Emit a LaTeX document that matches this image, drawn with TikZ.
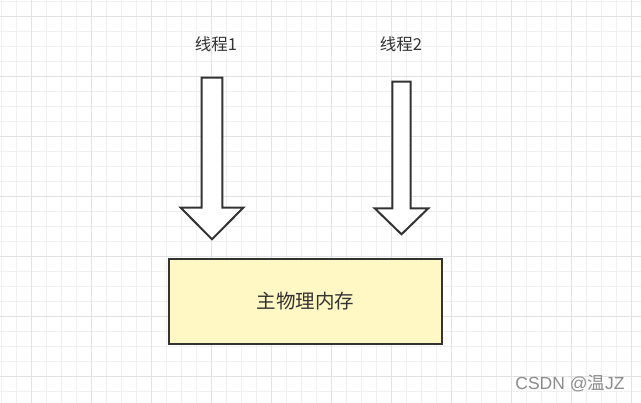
\documentclass[tikz,border=0pt]{standalone}
\usepackage{fontspec}
\setmainfont{Liberation Sans}
\newfontfamily\cjk{Noto Sans CJK SC}
\definecolor{gridminor}{HTML}{F0F0F0}
\definecolor{gridmajor}{HTML}{E2E2E2}
\definecolor{ink}{HTML}{333333}
\definecolor{memfill}{HTML}{FFF8C4}
\definecolor{wm}{HTML}{8C8C8C}
\tikzset{
  blockarrow/.style={draw=ink, line width=2pt, fill=white, line join=miter},
  lbl/.style={text=ink, font=\cjk\fontsize{16.5}{16.5}\selectfont, inner sep=0pt},
  membox/.style={draw=ink, line width=2pt, fill=memfill, minimum width=272.7pt, minimum height=85pt, inner sep=0pt, text=ink, font=\cjk\fontsize{19.5}{19.5}\selectfont},
  watermark/.style={text=wm, font=\fontsize{17.5}{18}\selectfont, inner sep=0pt}
}
\begin{document}
\begin{tikzpicture}[x=1pt,y=-1pt]
\useasboundingbox (0,0) rectangle (641,403);
\fill[white] (0,0) rectangle (641,403);
% grid
\foreach \i in {0,...,42} {
  \pgfmathsetmacro{\xx}{1+15*\i}
  \draw[gridminor, line width=1pt] (\xx,0) -- (\xx,403);
}
\foreach \i in {0,...,26} {
  \pgfmathsetmacro{\yy}{2+15*\i}
  \draw[gridminor, line width=1pt] (0,\yy) -- (641,\yy);
}
\foreach \i in {0,...,10} {
  \pgfmathsetmacro{\xx}{31+60*\i}
  \draw[gridmajor, line width=1pt] (\xx,0) -- (\xx,403);
}
\foreach \i in {0,...,6} {
  \pgfmathsetmacro{\yy}{17+60*\i}
  \draw[gridmajor, line width=1pt] (0,\yy) -- (641,\yy);
}
% labels
\node[lbl] (t1) at (216,44) {线程1};
\node[lbl] (t2) at (401,44) {线程2};
% arrows
\draw[blockarrow] (201.7,77.7) -- (222.3,77.7) -- (222.3,207.7) -- (243.3,207.7) -- (212,239.3) -- (180.7,207.7) -- (201.7,207.7) -- cycle;
\draw[blockarrow] (392.3,81.7) -- (410.7,81.7) -- (410.7,208.3) -- (428.3,208.3) -- (401.5,234.3) -- (374.7,208.3) -- (392.3,208.3) -- cycle;
% memory box
\node[membox] (mem) at (305.3,301.5) {主物理内存};
% watermark
\node[watermark] (wmk) at (570,383) {CSDN @{\cjk 温}JZ};
\end{tikzpicture}
\end{document}
